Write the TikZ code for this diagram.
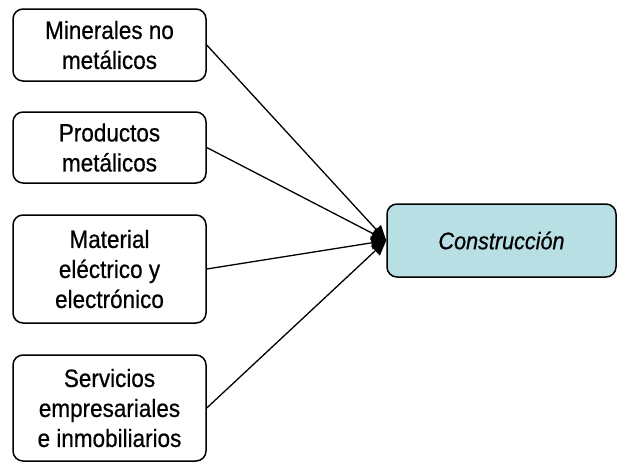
\documentclass[tikz,border=0pt]{standalone}
\usepackage{fontspec}
\setmainfont{Liberation Sans}[FakeStretch=0.9,FakeBold=0.6]
\usetikzlibrary{arrows.meta}
\begin{document}
\begin{tikzpicture}[x=1pt,y=-1pt,
            sector/.style={draw=black, line width=1.5pt, rounded corners=10pt, fill=white,
                minimum width=193pt, align=center, inner sep=2pt,
                font=\fontsize{25}{30}\selectfont},
            flow/.style={line width=1.3pt, -{Triangle[length=15pt,width=13pt]}}]
            \useasboundingbox (0,0) rectangle (621,463);
            \definecolor{celeste}{RGB}{184,223,227};
            
            \node[sector, minimum height=72pt] (mineral) at (109.5,45) {Minerales no\\metálicos};
            \node[sector, minimum height=71pt] (metal) at (109.5,147.5) {Productos\\metálicos};
            \node[sector, minimum height=108pt] (electrico) at (109.5,269) {Material\\eléctrico y\\electrónico};
            \node[sector, minimum height=106pt] (servicios) at (109.5,408) {Servicios\\empresariales\\e inmobiliarios};
            
            \node[sector, fill=celeste, minimum width=229pt, minimum height=73pt, font=\fontsize{24}{30}\selectfont\itshape] (construccion) at (501.5,240.5) {Construcción};
            
            \draw[flow] (mineral.east) -- (construccion.west);
            \draw[flow] (metal.east) -- (construccion.west);
            \draw[flow] (electrico.east) -- (construccion.west);
            \draw[flow] (servicios.east) -- (construccion.west);
            
        \end{tikzpicture}
\end{document}
